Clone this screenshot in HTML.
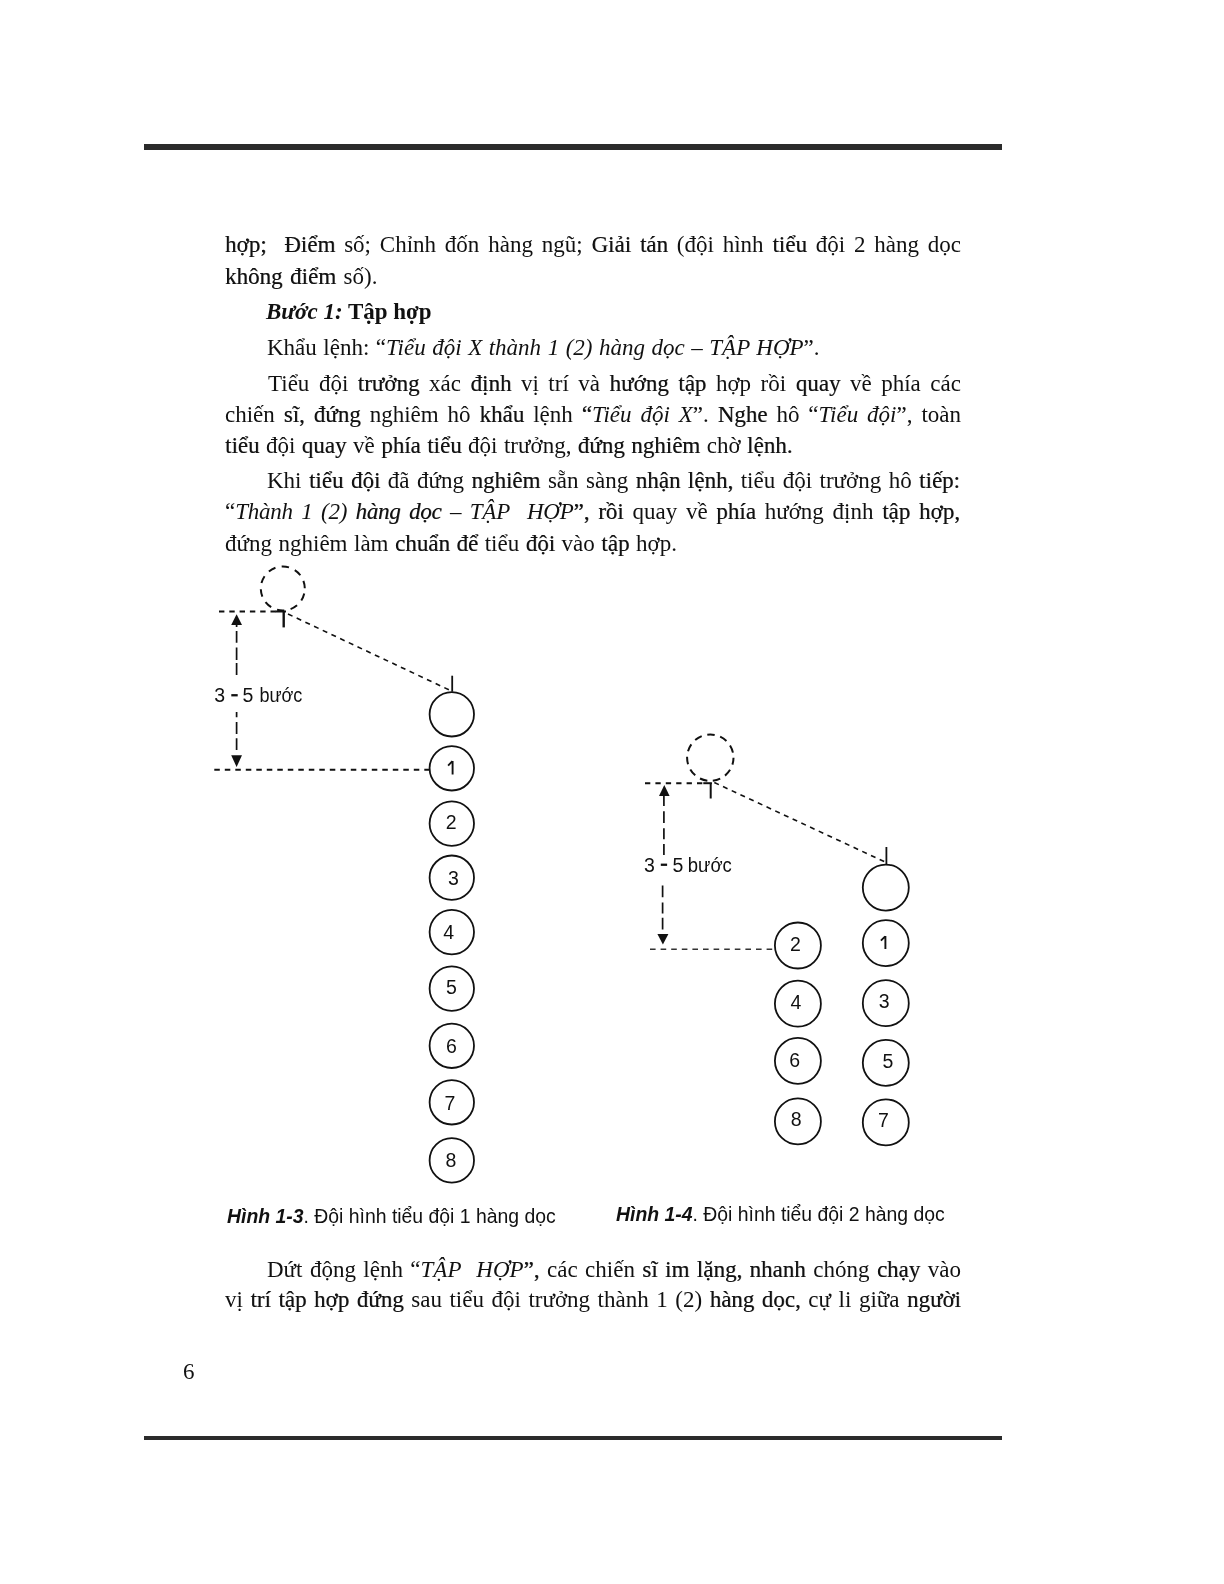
<!DOCTYPE html>
<html><head><meta charset="utf-8">
<style>
html,body{margin:0;padding:0;background:#fff;}
.t,.s,svg{will-change:transform;}
body{width:1224px;height:1584px;position:relative;overflow:hidden;}
.bar{position:absolute;left:144px;width:858px;background:#2b2b2b;}
.t{position:absolute;font-family:"Liberation Serif",serif;font-size:23px;line-height:23px;color:#111;white-space:nowrap;}
.k{text-shadow:0.5px 0 0 rgba(17,17,17,0.55);}
.j{text-align:justify;text-align-last:justify;white-space:normal;}
.s{position:absolute;font-family:"Liberation Sans",sans-serif;color:#111;white-space:nowrap;}
svg{position:absolute;left:0;top:0;}
</style></head><body>
<div class="bar" style="top:144px;height:6px"></div>
<div class="bar" style="top:1436px;height:4px"></div>

<div class="t j" id="l1" style="left:225px;top:233px;width:736px"><span class="k">hợp;</span>&nbsp; <span class="k">Điểm</span> số; Chỉnh đốn hàng ngũ; <span class="k">Giải tán</span> (đội hình <span class="k">tiểu</span> đội 2 hàng dọc</div>
<div class="t" id="l2" style="left:225px;top:265px;word-spacing:1.8px"><span class="k">không điểm</span> số).</div>
<div class="t" id="l3" style="left:266px;top:300px"><b><i>Bước 1:</i> Tập hợp</b></div>
<div class="t" id="l4" style="left:267px;top:336px;word-spacing:0.78px">Khẩu lệnh: “<i>Tiểu đội X thành 1 (2) hàng dọc – TẬP HỢP</i>”.</div>
<div class="t j" id="l5" style="left:268px;top:372px;width:693px">Tiểu đội <span class="k">trưởng</span> xác <span class="k">định</span> vị trí và <span class="k">hướng tập</span> hợp rồi <span class="k">quay</span> về phía các</div>
<div class="t j" id="l6" style="left:225px;top:403px;width:736px">chiến <span class="k">sĩ, đứng</span> nghiêm hô <span class="k">khẩu</span> lệnh <span class="k">“</span><i>Tiểu đội X</i>”. <span class="k">Nghe</span> hô “<i>Tiểu đội</i>”, toàn</div>
<div class="t" id="l7" style="left:225px;top:434px;word-spacing:0.7px"><span class="k">tiểu</span> đội <span class="k">quay</span> về <span class="k">phía tiểu</span> đội trưởng, <span class="k">đứng nghiêm</span> chờ <span class="k">lệnh.</span></div>
<div class="t j" id="l8" style="left:267px;top:469px;width:693px">Khi <span class="k">tiểu đội</span> đã đứng <span class="k">nghiêm</span> sẵn sàng <span class="k">nhận lệnh,</span> tiểu đội trưởng hô <span class="k">tiếp:</span></div>
<div class="t j" id="l9" style="left:225px;top:500px;width:735px">“<i style="letter-spacing:-0.25px">Thành 1 (2) <span class="k">hàng dọc</span> – TẬP&nbsp; HỢP</i><span class="k">”, rồi</span> quay về <span class="k">phía</span> hướng định <span class="k">tập hợp,</span></div>
<div class="t" id="l10" style="left:225px;top:532px;word-spacing:0.77px">đứng nghiêm làm <span class="k">chuẩn để</span> tiểu <span class="k">đội</span> vào <span class="k">tập</span> hợp.</div>

<div class="t j" id="l11" style="left:267px;top:1258px;width:694px">Dứt động lệnh “<i>TẬP&nbsp; HỢP</i><span class="k">”,</span> các chiến <span class="k">sĩ im lặng,</span> <span class="k">nhanh</span> chóng <span class="k">chạy</span> vào</div>
<div class="t j" id="l12" style="left:225px;top:1288px;width:736px">vị <span class="k">trí tập hợp đứng</span> sau tiểu đội trưởng thành 1 (2) <span class="k">hàng dọc,</span> cự li giữa <span class="k">người</span></div>
<div class="t" id="pg" style="left:183px;top:1360px">6</div>

<div class="s" id="c1" style="left:227px;top:1207px;font-size:19.4px;line-height:19px"><b><i>Hình 1-3</i></b>. Đội hình tiểu đội 1 hàng dọc</div>
<div class="s" id="c2" style="left:616px;top:1205px;font-size:19.4px;line-height:19px"><b><i>Hình 1-4</i></b>. Đội hình tiểu đội 2 hàng dọc</div>

<svg width="1224" height="1584" viewBox="0 0 1224 1584">
<circle cx="282.8" cy="588.5" r="22" fill="none" stroke="#111" stroke-width="2" stroke-dasharray="7.5 6.323" stroke-dashoffset="8.75"/>
<line x1="219" y1="611.5" x2="276" y2="611.5" stroke="#111" stroke-width="2" stroke-dasharray="5.4 4.9" stroke-dashoffset="0"/>
<line x1="275.6" y1="611.5" x2="286" y2="611.5" stroke="#111" stroke-width="2"/>
<line x1="283.7" y1="611" x2="283.7" y2="627.4" stroke="#111" stroke-width="2.4"/>
<line x1="288" y1="614" x2="451.5" y2="691" stroke="#111" stroke-width="1.6" stroke-dasharray="5 4.6" stroke-dashoffset="0"/>
<line x1="452.2" y1="675.7" x2="452.2" y2="691.7" stroke="#111" stroke-width="1.8"/>
<circle cx="451.8" cy="714.3" r="22.2" fill="none" stroke="#111" stroke-width="1.8"/>
<circle cx="451.8" cy="768.3" r="22.2" fill="none" stroke="#111" stroke-width="1.8"/>
<circle cx="451.8" cy="823.6" r="22.2" fill="none" stroke="#111" stroke-width="1.8"/>
<circle cx="451.8" cy="877.7" r="22.2" fill="none" stroke="#111" stroke-width="1.8"/>
<circle cx="451.8" cy="932.1" r="22.2" fill="none" stroke="#111" stroke-width="1.8"/>
<circle cx="451.8" cy="988.6" r="22.2" fill="none" stroke="#111" stroke-width="1.8"/>
<circle cx="451.8" cy="1045.8" r="22.2" fill="none" stroke="#111" stroke-width="1.8"/>
<circle cx="451.8" cy="1102.3" r="22.2" fill="none" stroke="#111" stroke-width="1.8"/>
<circle cx="451.8" cy="1160.4" r="22.2" fill="none" stroke="#111" stroke-width="1.8"/>
<polygon points="236.6,614.3 231.2,625 242.0,625" fill="#111"/>
<path d="M236.6 625V627M236.6 631V642.7M236.6 647.5V660M236.6 663.1V675M236.6 712V717.2M236.6 722V734M236.6 738.2V750" stroke="#111" stroke-width="1.7" fill="none"/>
<polygon points="236.6,767.1 231.2,755.3 242.0,755.3" fill="#111"/>
<line x1="214.3" y1="769.7" x2="429" y2="769.7" stroke="#111" stroke-width="2" stroke-dasharray="5.5 5" stroke-dashoffset="0"/>
<text x="214.2" y="702.3" font-family="Liberation Sans" font-size="19.5" fill="#111">3</text>
<text x="242.6" y="702.3" font-family="Liberation Sans" font-size="19.5" fill="#111">5</text>
<text x="259.4" y="702.3" font-family="Liberation Sans" font-size="19.5" fill="#111" textLength="43" lengthAdjust="spacingAndGlyphs">bước</text>
<rect x="231.3" y="694.1" width="6.4" height="2.3" fill="#111"/>
<text x="445.8" y="828.9" font-family="Liberation Sans" font-size="19.5" fill="#111">2</text>
<text x="448" y="884.5" font-family="Liberation Sans" font-size="19.5" fill="#111">3</text>
<text x="443.2" y="938.7" font-family="Liberation Sans" font-size="19.5" fill="#111">4</text>
<text x="445.9" y="994.1" font-family="Liberation Sans" font-size="19.5" fill="#111">5</text>
<text x="446" y="1052.5" font-family="Liberation Sans" font-size="19.5" fill="#111">6</text>
<text x="444.5" y="1109.7" font-family="Liberation Sans" font-size="19.5" fill="#111">7</text>
<text x="445.5" y="1167" font-family="Liberation Sans" font-size="19.5" fill="#111">8</text>
<path d="M452.6 760.9V774.6M448.1 765.6L452.4 761.2" stroke="#111" stroke-width="1.9" fill="none"/>
<circle cx="710.3" cy="757.7" r="23.2" fill="none" stroke="#111" stroke-width="2" stroke-dasharray="7.6 5.652" stroke-dashoffset="0.5"/>
<line x1="645" y1="783.2" x2="703.3" y2="783.2" stroke="#111" stroke-width="2" stroke-dasharray="5.3 5.1" stroke-dashoffset="0"/>
<line x1="703.3" y1="783.2" x2="711.9" y2="783.2" stroke="#111" stroke-width="2"/>
<line x1="710.7" y1="783" x2="710.7" y2="798.5" stroke="#111" stroke-width="2"/>
<line x1="714.3" y1="782.5" x2="884.5" y2="861.7" stroke="#111" stroke-width="1.6" stroke-dasharray="5 4.6" stroke-dashoffset="0"/>
<line x1="886.4" y1="847" x2="886.4" y2="864" stroke="#111" stroke-width="1.8"/>
<circle cx="885.8" cy="887.6" r="23" fill="none" stroke="#111" stroke-width="1.8"/>
<circle cx="885.8" cy="943.1" r="23" fill="none" stroke="#111" stroke-width="1.8"/>
<circle cx="885.8" cy="1003.2" r="23" fill="none" stroke="#111" stroke-width="1.8"/>
<circle cx="885.8" cy="1062.8" r="23" fill="none" stroke="#111" stroke-width="1.8"/>
<circle cx="885.8" cy="1122.4" r="23" fill="none" stroke="#111" stroke-width="1.8"/>
<circle cx="797.9" cy="945.5" r="23" fill="none" stroke="#111" stroke-width="1.8"/>
<circle cx="797.9" cy="1003.7" r="23" fill="none" stroke="#111" stroke-width="1.8"/>
<circle cx="797.9" cy="1060.8" r="23" fill="none" stroke="#111" stroke-width="1.8"/>
<circle cx="797.9" cy="1121.4" r="23" fill="none" stroke="#111" stroke-width="1.8"/>
<polygon points="664.3,784.9 659.0,796 669.5999999999999,796" fill="#111"/>
<path d="M663.9 796V806M663.9 811.3V823M663.9 828.2V839.3M663.9 844V855.1" stroke="#111" stroke-width="1.7" fill="none"/>
<path d="M662.6 885.5V897.2M662.6 902.5V913.6M662.6 917.7V929.4" stroke="#111" stroke-width="1.7" fill="none"/>
<polygon points="662.9,944.6 657.4,934.1 668.4,934.1" fill="#111"/>
<line x1="650" y1="949.3" x2="773.5" y2="949.3" stroke="#333" stroke-width="1.5" stroke-dasharray="5.6 5" stroke-dashoffset="0"/>
<text x="643.9" y="871.8" font-family="Liberation Sans" font-size="19.5" fill="#111">3</text>
<text x="672.5" y="871.8" font-family="Liberation Sans" font-size="19.5" fill="#111">5</text>
<text x="687.8" y="871.8" font-family="Liberation Sans" font-size="19.5" fill="#111" textLength="44" lengthAdjust="spacingAndGlyphs">bước</text>
<rect x="660.8" y="863.6" width="6.3" height="2.3" fill="#111"/>
<text x="790" y="950.6" font-family="Liberation Sans" font-size="19.5" fill="#111">2</text>
<text x="790.5" y="1009.2" font-family="Liberation Sans" font-size="19.5" fill="#111">4</text>
<text x="789.3" y="1066.8" font-family="Liberation Sans" font-size="19.5" fill="#111">6</text>
<text x="790.8" y="1125.9" font-family="Liberation Sans" font-size="19.5" fill="#111">8</text>
<text x="878.7" y="1007.7" font-family="Liberation Sans" font-size="19.5" fill="#111">3</text>
<text x="882.5" y="1067.6" font-family="Liberation Sans" font-size="19.5" fill="#111">5</text>
<text x="878" y="1126.7" font-family="Liberation Sans" font-size="19.5" fill="#111">7</text>
<path d="M885.4 936V949.1M880.9 940.6L885.2 936.3" stroke="#111" stroke-width="1.9" fill="none"/>
</svg>
</body></html>
